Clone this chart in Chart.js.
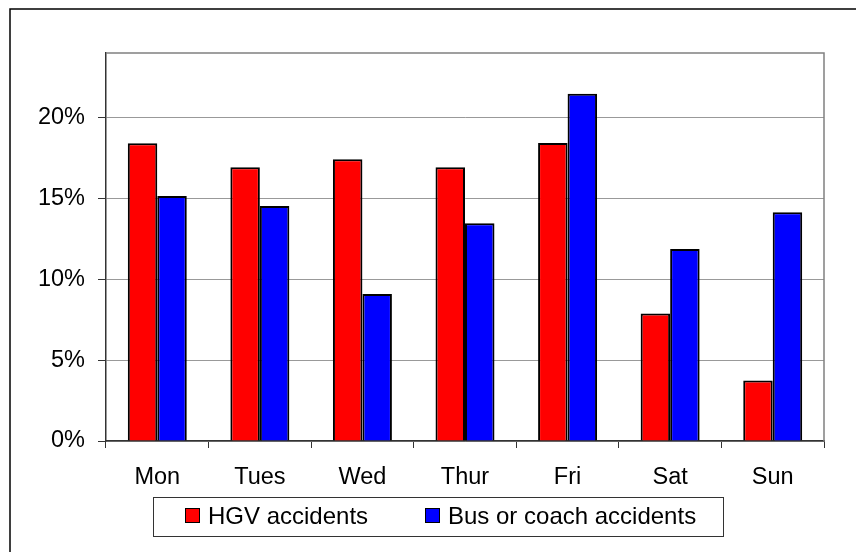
<!DOCTYPE html>
<html lang="en">
    <head>
        <meta charset="UTF-8" />
        <title>Accidents by day of week</title>
        <script src="https://cdn.jsdelivr.net/npm/chart.js"></script>
        <style>
            html, body { margin: 0; padding: 0; background: #fff; }
            #wrap { width: 856px; height: 552px; position: relative; }
        </style>
    </head>
    <body>
        <div id="wrap"><canvas id="dayChart" width="856" height="552"></canvas></div>

        <script>
            const days = ['Mon', 'Tues', 'Wed', 'Thur', 'Fri', 'Sat', 'Sun'];
            const hgvShare = [18.41, 16.94, 17.43, 16.94, 18.44, 7.89, 3.74];
            const busShare = [15.15, 14.54, 9.09, 13.47, 21.48, 11.88, 14.15];
            const yTicks = [0, 5, 10, 15, 20];

            const FONT = '"Liberation Sans", Arial, sans-serif';

            // outer frame, plot frame and boxed legend (the Excel look)
            const excelFrame = {
                id: 'excelFrame',
                beforeDatasetsDraw(chart) {
                    const { ctx, chartArea: a } = chart;
                    ctx.save();
                    ctx.strokeStyle = '#808080';
                    ctx.lineWidth = 1.5;
                    ctx.beginPath();
                    ctx.moveTo(a.left, a.top);
                    ctx.lineTo(a.right, a.top);
                    ctx.lineTo(a.right, a.bottom);
                    ctx.stroke();
                    ctx.restore();
                },
                afterDraw(chart) {
                    const { ctx } = chart;
                    ctx.save();
                    ctx.strokeStyle = '#000';
                    ctx.lineWidth = 1.5;
                    ctx.beginPath();
                    ctx.moveTo(10, 552);
                    ctx.lineTo(10, 9);
                    ctx.lineTo(856, 9);
                    ctx.stroke();

                    // legend
                    ctx.lineWidth = 1;
                    ctx.strokeStyle = '#333';
                    ctx.strokeRect(153.5, 497.5, 570, 39);
                    const items = [
                        { box: 185, text: 208 },
                        { box: 425, text: 448 },
                    ];
                    ctx.font = '24px ' + FONT;
                    ctx.textBaseline = 'middle';
                    chart.data.datasets.forEach((ds, i) => {
                        const it = items[i];
                        ctx.fillStyle = ds.backgroundColor;
                        ctx.fillRect(it.box, 508, 15, 15);
                        ctx.strokeStyle = '#000';
                        ctx.strokeRect(it.box + 0.5, 508.5, 14, 14);
                        ctx.fillStyle = '#000';
                        ctx.fillText(ds.label, it.text, 517);
                    });
                    ctx.restore();
                },
            };

            new Chart(document.getElementById('dayChart'), {
                type: 'bar',
                data: {
                    labels: days,
                    datasets: [
                        {
                            label: 'HGV accidents',
                            data: hgvShare,
                            backgroundColor: '#ff0000',
                            borderColor: '#000',
                            borderWidth: 2,
                        },
                        {
                            label: 'Bus or coach accidents',
                            data: busShare,
                            backgroundColor: '#0000ff',
                            borderColor: '#000',
                            borderWidth: 2,
                        },
                    ],
                },
                options: {
                    responsive: false,
                    animation: false,
                    layout: { padding: { left: 10, right: 32, top: 53, bottom: 55 } },
                    datasets: { bar: { categoryPercentage: 0.575, barPercentage: 1 } },
                    plugins: {
                        legend: { display: false },
                        tooltip: { enabled: false },
                    },
                    scales: {
                        x: {
                            grid: {
                                offset: true,
                                drawOnChartArea: false,
                                drawTicks: true,
                                tickLength: 7,
                                tickColor: '#333',
                            },
                            border: { color: '#333', width: 1.5 },
                            ticks: {
                                color: '#000',
                                font: { family: FONT, size: 23.5 },
                                padding: 15,
                                maxRotation: 0,
                            },
                            afterFit(scale) {
                                scale.height = 56;
                            },
                        },
                        y: {
                            min: 0,
                            max: 24,
                            afterBuildTicks(scale) {
                                scale.ticks = yTicks.map((v) => ({ value: v }));
                            },
                            grid: {
                                color: '#999',
                                lineWidth: 1,
                                tickLength: 8,
                                tickColor: '#333',
                            },
                            border: { color: '#333', width: 1.5 },
                            ticks: {
                                color: '#000',
                                font: { family: FONT, size: 23.5 },
                                padding: 13,
                                callback: (v) => v + '%',
                            },
                            afterFit(scale) {
                                scale.width = 96;
                            },
                        },
                    },
                },
                plugins: [excelFrame],
            });
        </script>
    </body>
</html>
